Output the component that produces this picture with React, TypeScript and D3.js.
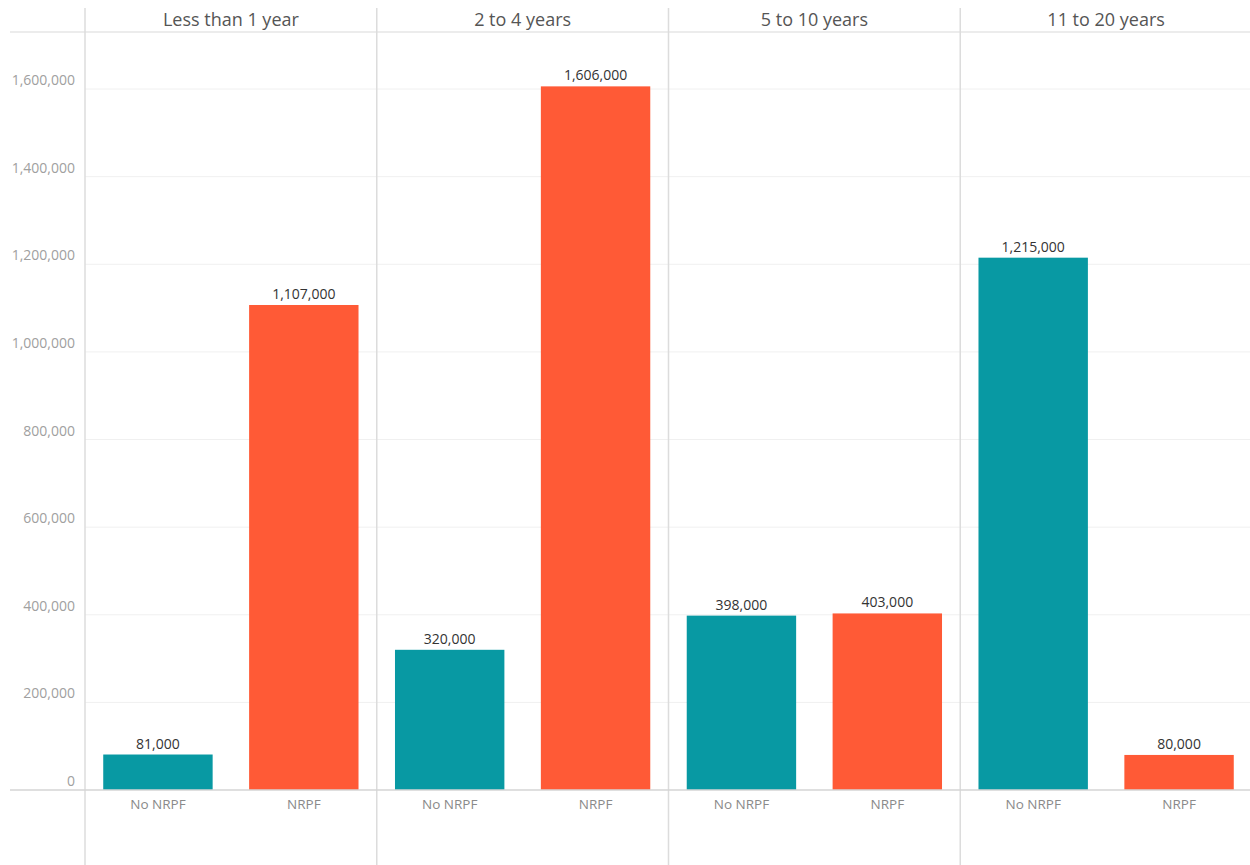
import React from "react";
import * as d3 from "d3";

const periods = ["Less than 1 year", "2 to 4 years", "5 to 10 years", "11 to 20 years"];
const groups = ["No NRPF", "NRPF"];
const noNrpfValues = [81000, 320000, 398000, 1215000];
const nrpfValues = [1107000, 1606000, 403000, 80000];
const yTicks = [0, 200000, 400000, 600000, 800000, 1000000, 1200000, 1400000, 1600000];
const colors = ["#0899a3", "#ff5a36"];

const W = 1250;
const H = 865;
const left = 85;
const right = 1252;
const zeroY = 790;
const headerY = 32;
const fontFamily = "'Open Sans', Lato, sans-serif";

export default function App() {
  const y = d3.scaleLinear().domain([0, 1600000]).range([zeroY, 89]);
  const panel = d3.scaleBand<string>().domain(periods).range([left, right]).padding(0);
  const inner = d3
    .scaleBand<string>()
    .domain(groups)
    .range([0, panel.bandwidth()])
    .paddingInner(0.25)
    .paddingOuter(0.125);
  const fmt = d3.format(",");
  const series = [noNrpfValues, nrpfValues];

  return (
    <svg
      width={W}
      height={H}
      style={{ position: "absolute", left: 0, top: 0, background: "#fff" }}
      fontFamily={fontFamily}
    >
      {/* gridlines */}
      {yTicks.filter((t) => t > 0).map((t) => (
        <line key={t} x1={left} x2={W} y1={y(t)} y2={y(t)} stroke="#f0f0f0" strokeWidth={1} />
      ))}
      {/* header line */}
      <line x1={10} x2={W} y1={headerY} y2={headerY} stroke="#d9d9d9" strokeWidth={1} />
      {/* panel separators */}
      {periods.map((p) => (
        <line
          key={p}
          x1={panel(p)!}
          x2={panel(p)!}
          y1={8}
          y2={H}
          stroke="#dcdcdc"
          strokeWidth={1.5}
        />
      ))}
      {/* y tick labels */}
      {yTicks.map((t) => (
        <text
          key={t}
          x={75}
          y={y(t) - 4}
          textAnchor="end"
          fontSize={14}
          fill="#a0a0a0"
        >
          {fmt(t)}
        </text>
      ))}
      {/* headers */}
      {periods.map((p) => (
        <text
          key={p}
          x={panel(p)! + panel.bandwidth() / 2}
          y={26}
          textAnchor="middle"
          fontSize={18}
          fill="#555"
        >
          {p}
        </text>
      ))}
      {/* bars */}
      {periods.map((p, i) =>
        groups.map((g, j) => {
          const v = series[j][i];
          const x0 = panel(p)! + inner(g)!;
          return (
            <g key={p + g}>
              <rect
                x={x0}
                y={y(v)}
                width={inner.bandwidth()}
                height={zeroY - y(v)}
                fill={colors[j]}
              />
              <text
                x={x0 + inner.bandwidth() / 2}
                y={y(v) - 6}
                textAnchor="middle"
                fontSize={14}
                fill="#333"
              >
                {fmt(v)}
              </text>
              <text
                x={x0 + inner.bandwidth() / 2}
                y={zeroY + 19}
                textAnchor="middle"
                fontSize={13.5}
                fill="#8a8a8a"
              >
                {g}
              </text>
            </g>
          );
        })
      )}
      {/* zero axis line */}
      <line x1={10} x2={W} y1={zeroY} y2={zeroY} stroke="#d4d4d4" strokeWidth={1.5} />
    </svg>
  );
}
